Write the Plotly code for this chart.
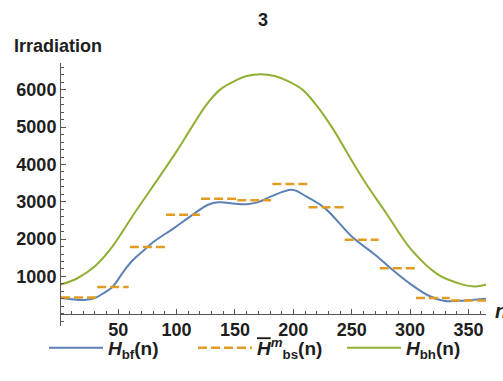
import plotly.graph_objects as go

# ---- data ----
bf_n = [1, 10, 21, 30, 38, 45, 55, 62, 70, 81, 98, 113, 127, 136, 150, 160, 170, 181, 199, 211, 227, 250, 270, 284, 301, 316, 330, 347, 365]
bf_v = [420, 390, 370, 420, 560, 715, 1150, 1420, 1645, 1940, 2300, 2635, 2920, 2985, 2950, 2935, 2990, 3145, 3325, 3145, 2830, 2070, 1580, 1200, 780, 480, 340, 355, 400]

bh_n = [1, 15, 30, 45, 64, 86, 100, 113, 125, 137, 150, 160, 172, 184, 195, 208, 220, 233, 252, 263, 279, 301, 324, 341, 355, 365]
bh_v = [780, 950, 1270, 1800, 2700, 3700, 4350, 5000, 5580, 6000, 6240, 6370, 6420, 6370, 6240, 6000, 5580, 5000, 4000, 3450, 2720, 1715, 1045, 820, 730, 775]

month_start = [1, 32, 60, 91, 121, 152, 182, 213, 244, 274, 305, 335]
month_end = [31, 59, 90, 120, 151, 181, 212, 243, 273, 304, 334, 365]
bs_v = [437, 715, 1790, 2655, 3083, 3040, 3475, 2850, 1985, 1215, 420, 355]

x_ticks = [50, 100, 150, 200, 250, 300, 350]
y_ticks = [1000, 2000, 3000, 4000, 5000, 6000]

# ---- build ----
bs_x, bs_y = [], []
for s, e, v in zip(month_start, month_end, bs_v):
    bs_x += [s, e, None]
    bs_y += [v, v, None]

FONT = "Liberation Sans"
TXT = "#1e1e1e"
AX = "#555555"

fig = go.Figure()
fig.add_trace(go.Scatter(x=bf_n, y=bf_v, mode="lines", line=dict(color="#5E81B5", width=2, shape="spline"),
                         name="<i>H</i><sub>bf</sub>(n)"))
fig.add_trace(go.Scatter(x=bs_x, y=bs_y, mode="lines", line=dict(color="#E19C24", width=2.5, dash="9px,4px"),
                         name="<span style='text-decoration:overline'><i>H</i></span><sup><i>m</i></sup><sub>bs</sub>(n)"))
fig.add_trace(go.Scatter(x=bh_n, y=bh_v, mode="lines", line=dict(color="#8FB032", width=2, shape="spline"),
                         name="<i>H</i><sub>bh</sub>(n)"))

ymin, ymax = -330, 6720
PW, PH = 425, 263
fig.update_layout(
    width=503, height=381,
    margin=dict(l=61, r=17, t=63, b=55),
    plot_bgcolor="white", paper_bgcolor="white",
    font=dict(family=FONT, size=18, color=TXT, weight="bold"),
    showlegend=True,
    legend=dict(orientation="h", xref="paper", yref="paper",
                x=(44 - 61) / PW, xanchor="left", y=-(348 - 326) / PH, yanchor="middle",
                itemwidth=54, entrywidth=80, entrywidthmode="pixels",
                font=dict(family=FONT, size=19, color=TXT, weight="bold"),
                bgcolor="rgba(0,0,0,0)"),
    xaxis=dict(range=[1, 365], anchor="free", position=(0 - ymin) / (ymax - ymin),
               showgrid=False, zeroline=False, showline=True, linecolor=AX, linewidth=1,
               tickvals=x_ticks, ticks="inside", ticklen=5, tickcolor=AX,
               tickfont=dict(family=FONT, size=18, color=TXT, weight="bold"),
               minor=dict(dtick=10, tick0=0, ticks="inside", ticklen=3, tickcolor=AX)),
    yaxis=dict(range=[ymin, ymax], showgrid=False, zeroline=False, showline=True, linecolor=AX, linewidth=1,
               tickvals=y_ticks, ticks="inside", ticklen=5, tickcolor=AX,
               tickfont=dict(family=FONT, size=18, color=TXT, weight="bold"),
               minor=dict(dtick=200, tick0=0, ticks="inside", ticklen=3, tickcolor=AX)),
    annotations=[
        dict(text="3", xref="paper", yref="paper", x=(263 - 61) / PW, y=1 + (63 - 20) / PH,
             xanchor="center", yanchor="middle", showarrow=False,
             font=dict(family=FONT, size=18, color=TXT, weight="bold")),
        dict(text="Irradiation", xref="paper", yref="paper", x=(12 - 61) / PW, y=1 + (63 - 46) / PH,
             xanchor="left", yanchor="middle", showarrow=False,
             font=dict(family=FONT, size=18, color=TXT, weight="bold")),
        dict(text="<i>n</i>", xref="paper", yref="paper", x=(493 - 61) / PW, y=(326 - 311) / PH,
             xanchor="left", yanchor="middle", showarrow=False,
             font=dict(family=FONT, size=20, color=TXT, weight="bold")),
    ],
)

fig.write_html("out.html", config={"displayModeBar": False},
               post_script="document.body.style.margin='0';document.body.style.padding='0';")
